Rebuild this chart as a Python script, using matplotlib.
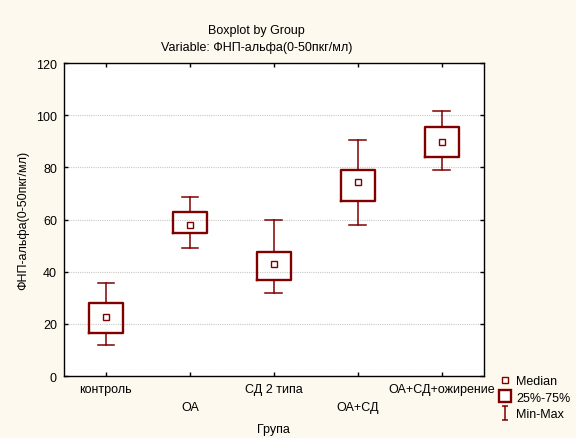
import matplotlib
matplotlib.use('Agg')
import matplotlib.pyplot as plt
from matplotlib.lines import Line2D
from matplotlib.path import Path

plt.rcParams['font.family'] = ['Liberation Sans', 'DejaVu Sans']

groups = ['контроль', 'ОА', 'СД 2 типа', 'ОА+СД', 'ОА+СД+ожирение']
medians = [22.6, 57.9, 42.9, 74.3, 89.8]
q1 = [16.5, 54.8, 36.8, 67.1, 84.0]
q3 = [28.1, 62.9, 47.5, 79.1, 95.5]
mins = [11.9, 49.1, 31.8, 57.8, 78.9]
maxs = [35.8, 68.6, 59.8, 90.7, 101.7]

red = '#800000'
bg = '#FDF9EE'
fs = 9

fig = plt.figure(figsize=(5.76, 4.39), dpi=100, facecolor=bg)
ax = fig.add_axes([0.111, 0.141, 0.729, 0.713])
ax.set_facecolor('white')

pos = list(range(1, len(groups) + 1))
stats = []
for i in range(len(groups)):
    stats.append(dict(med=medians[i], q1=q1[i], q3=q3[i],
                      whislo=mins[i], whishi=maxs[i], fliers=[]))

ax.bxp(stats, positions=pos, widths=0.4, showfliers=False,
       boxprops=dict(color=red, linewidth=1.7),
       whiskerprops=dict(color=red, linewidth=1.1),
       capprops=dict(color=red, linewidth=1.1),
       medianprops=dict(linewidth=0), capwidths=0.2,
       manage_ticks=False, zorder=3)
ax.plot(pos, medians, linestyle='none', marker='s', markersize=4,
        markerfacecolor='white', markeredgecolor=red, markeredgewidth=1, zorder=4)

ax.set_xlim(0.5, 5.5)
ax.set_ylim(0, 120)
ax.set_yticks(range(0, 121, 20))
ax.set_xticks(pos)
ax.set_xticklabels([''] * len(groups))
for i, g in enumerate(groups):
    ax.text(pos[i], -2.5 if i % 2 == 0 else -9.5, g, ha='center', va='top',
            fontsize=fs, clip_on=False)

ax.yaxis.grid(True, color='#c8c8c8', linestyle=(0, (1, 1)), linewidth=0.8)
ax.set_axisbelow(True)
ax.tick_params(direction='in', length=3, width=1, labelsize=fs, pad=5,
               top=True, right=True)
for s in ax.spines.values():
    s.set_linewidth(1)

ax.set_ylabel('ФНП-альфа(0-50пкг/мл)', fontsize=fs, labelpad=5)
ax.set_xlabel('Група', fontsize=fs, labelpad=29)

fig.text(0.445, 0.929, 'Boxplot by Group', ha='center', va='center', fontsize=fs)
fig.text(0.445, 0.891, 'Variable: ФНП-альфа(0-50пкг/мл)',
         ha='center', va='center', fontsize=fs)

imark = Path([(-0.5, 1), (0.5, 1), (0, 1), (0, -1), (-0.5, -1), (0.5, -1)],
             [Path.MOVETO, Path.LINETO, Path.MOVETO, Path.LINETO,
              Path.MOVETO, Path.LINETO])
h_med = Line2D([], [], linestyle='none', marker='s', markersize=4,
               markerfacecolor='white', markeredgecolor=red)
h_box = Line2D([], [], linestyle='none', marker='s', markersize=8,
               markerfacecolor='white', markeredgecolor=red, markeredgewidth=1.7)
h_rng = Line2D([], [], linestyle='none', marker=imark, markersize=10,
               markerfacecolor='none', markeredgecolor=red, markeredgewidth=1.1)
fig.legend([h_med, h_box, h_rng], ['Median', '25%-75%', 'Min-Max'],
           loc='upper left', bbox_to_anchor=(0.857, 0.157), frameon=False,
           fontsize=fs, handlelength=0.8, handletextpad=0.5,
           labelspacing=0.35, borderpad=0)

fig.savefig('out.png', dpi=100, facecolor=bg)
